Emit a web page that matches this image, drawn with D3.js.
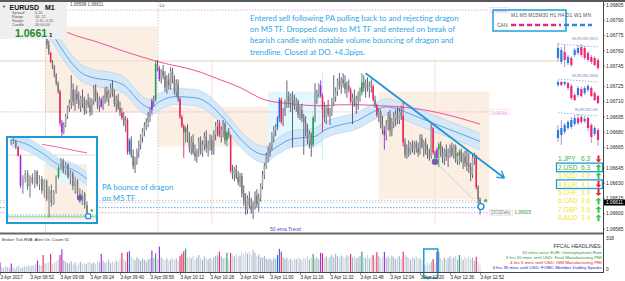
<!DOCTYPE html>
<html>
<head>
<meta charset="utf-8">
<script src="https://cdn.jsdelivr.net/npm/d3@7"></script>
<style>
  body { margin: 0; background: #fff; overflow: hidden; }
  svg { display: block; font-family: "Liberation Sans", Arial, sans-serif; }
</style>
</head>
<body>
<script>
// ---------- data ----------
// M1 bars, prices in points above 1.06500. bar 0 sits at the "3 Apr 2017" label
const firstBar = 25;
const firstOpen = 280;
const closes = [
  266,258,249,244,236,228,220,189,180,187, 196,204,209,222,210,218,212,206,214,208,
  201,210,207,200,211,222,214,206,212,205, 213,220,214,218,224,218,208,212,204,199,
  194,188,192,161,172,157,147,152,161,168, 175,181,186,190,196,202,211,212,247,243,
  232,240,235,224,232,226,240,231,220,228, 213,195,186,180,184,172,165,170,160,156,
  162,170,160,168,176,164,168,172,162,178, 186,189,177,182,188,172,180,177,142,138,
  144,136,131,137,120,112,104,115,108,103, 110,118,109,116,127,138,147,157,162,166,
  176,182,185,194,212,190,200,208,215,210, 216,212,206,210,197,202,194,190,180,172,
  178,168,194,212,218,226,216,202,194,204, 198,200,210,215,220,230,226,232,228,222,
  226,222,210,214,208,212,216,219,229,224, 228,222,226,225,212,206,197,200,188,182,
  177,188,196,182,190,194,198,192,200,196, 170,158,164,160,168,163,169,164,160,174,
  166,170,162,158,156,184,160,155,163,168, 160,154,162,156,160,165,158,166,152,157,
  161,152,156,150,148,146,138,155,157,126, 114,111
];
const highs = [
  284,270,259,251,246,238,230,222,192,190, 198,206,212,236,228,222,226,220,216,222,
  215,212,218,214,213,226,227,219,215,214, 216,224,225,222,228,231,222,216,218,210,
  204,200,196,194,174,176,163,156,164,172, 178,184,190,194,200,204,213,216,250,251,
  245,242,246,240,236,238,244,243,236,232, 232,214,197,188,186,188,180,176,178,168,
  164,175,176,172,180,182,172,178,177,182, 190,192,192,186,192,190,181,184,178,148,
  146,148,142,140,140,128,120,118,122,116, 112,122,124,120,130,142,150,160,166,170,
  180,186,188,196,214,214,204,212,231,220, 218,220,217,214,212,206,208,198,196,188,
  182,180,196,228,222,228,231,218,210,206, 212,204,214,236,224,233,238,234,238,236,
  230,232,224,218,222,216,220,224,238,236, 232,234,230,232,227,216,208,204,202,196,
  186,192,200,202,194,200,202,205,204,206, 210,174,168,172,170,172,171,172,170,178,
  178,172,174,168,164,188,185,162,165,170, 171,166,164,168,164,168,170,168,168,160,
  163,164,160,162,163,160,150,158,160,158, 128,116
];
const lows = [
  262,256,248,242,234,226,218,186,176,178, 185,193,200,203,206,201,208,203,200,204,
  197,198,204,196,197,207,210,203,200,204, 202,208,210,206,214,215,205,200,202,196,
  192,186,180,158,158,155,144,140,148,155, 163,170,176,182,185,190,198,205,210,240,
  230,228,232,220,218,222,222,228,217,215, 210,193,184,155,170,170,160,158,158,152,
  150,156,158,156,162,160,156,162,158,158, 172,176,175,170,175,168,166,174,140,134,
  132,134,128,126,116,108,99,100,105,100, 95,104,106,102,112,124,134,144,150,156,
  162,170,176,182,190,188,186,196,204,204, 200,165,202,200,194,192,190,158,176,168,
  164,156,165,190,208,214,214,180,190,188, 195,187,196,206,210,216,222,218,224,218,
  214,219,208,188,205,198,202,210,216,220, 214,220,214,219,210,204,195,190,184,178,
  163,172,182,176,176,184,186,188,188,192, 166,155,154,156,158,160,158,160,156,158,
  164,156,158,154,152,154,158,150,152,146, 156,150,148,152,146,155,156,154,150,148,
  148,150,144,146,142,140,132,135,148,124, 110,99
];
const redBars = [23, 27, 32, 65, 68, 96, 97, 98, 117, 123, 150, 172, 187, 199, 201, 215, 231, 254];
const greenBars = [83, 99, 121, 167, 193, 234, 245];
const blueBars = [69, 148, 149];
const purpleBars = [0, 6, 20, 33, 54, 81, 85, 171, 205, 233];

// tick volume, bar 0..256
const volumes = [
  86,40,35,50,45,38,75,42,30,48,55,35,40,52,45,60,
  50,62,55,70,100,65,58,150,75,80,88,160,70,82,95,110,
  150,200,105,90,80,75,95,70,85,60,78,92,66,80,72,88,
  90,76,84,70,95,86,160,100,82,92,110,78,96,85,102,90,
  120,170,110,95,175,185,140,120,105,130,115,98,120,108,92,112,
  118,190,125,165,110,225,130,115,102,120,98,110,125,105,118,100,
  140,160,185,205,125,135,118,142,110,128,150,122,108,135,118,112,
  125,115,130,145,150,180,138,120,128,170,115,168,150,140,160,135,
  145,170,155,180,162,175,150,195,168,140,155,130,125,142,118,110,
  120,105,128,115,150,205,180,132,115,125,108,118,102,122,112,130,
  115,105,125,120,138,110,128,160,118,130,112,170,165,125,140,118,
  135,150,128,162,140,118,145,132,125,150,138,160,130,145,120,128,
  142,180,130,125,150,118,135,150,122,175,140,118,132,178,125,138,
  120,145,130,112,128,140,118,180,150,135,125,110,132,118,140,122,
  120,105,70,60,85,65,90,115,75,180,175,120,105,130,112,125,
  140,118,130,145,110,150,125,108,135,120,140,115,128,100,135,90,60
];

// dragon (EMA band) and 200 EMA, read at a few bars
const dragonBars = [22,28,35,43,51,59,67,75,80,85,93,104,112,120,128,136,141,147,155,163,168,173,181,190,199,206,213,224,235,245,256];
const dragonMid  = [290,276,256,239,233,231,225,209,204,210,215,214,207,192,174,161,158,165,173,175,176,182,187,191,200,205,202,194,186,179,171];
const dragonHalfWidth = 8;
const emaBars = [22,36,53,67,85,107,114,128,141,155,171,181,192,203,213,229,245,256];
const emaVals = [292,278,268,259,249,239,234,224,212,208,206,207,207,206,205,201,194,188];

// session boxes
const sessionFrom = [24, 84, 143, 202];
const sessionTo   = [84, 143, 172, 261];
const sessionHigh = [1.06784, 1.06705, 1.06720, 1.06720];
const sessionLow  = [1.06699, 1.06666, 1.06666, 1.06614];
const sessionKind = ["range", "range", "break", "range"];

// levels
const topLevel = 1.06800, midLevel = 1.06700, tanLevel = 1.06750;
const askLevel = 1.06613, bidLevel = 1.06611, dailyOpen = 1.06606, pinkLevel = 1.06601;

// trade drawings
const trendStartBar = 195, trendStartPrice = 1.06738;
const trendEndBar = 269, trendEndPrice = 1.06635;
const entryBar = 232, entryPrice = 1.06651;
const exitBar = 256.5, exitPrice = 1.06607;

// axes
const priceTicks = [1.06805, 1.06790, 1.06775, 1.06760, 1.06745, 1.06725, 1.06710, 1.06695,
  1.06680, 1.06665, 1.06645, 1.06630, 1.06615, 1.06600, 1.06585];
const timeLabels = ["3 Apr 2017", "3 Apr 08:52", "3 Apr 09:08", "3 Apr 09:24", "3 Apr 09:40",
  "3 Apr 09:56", "3 Apr 10:12", "3 Apr 10:28", "3 Apr 10:44", "3 Apr 11:00", "3 Apr 11:16",
  "3 Apr 11:32", "3 Apr 11:48", "3 Apr 12:04", "3 Apr 12:20", "3 Apr 12:36", "3 Apr 12:52"];
const timeStep = 16;

// M5 inset
const insetFirstOpen = 287;
const insetCloses = [290,292,275,252,172,190,205,170,195,180,210,176,190,158,185,135,160,125,155,195,220,240,210,228,195,205,170,185,150,135,150,120,95];
const insetHighs  = [297,300,295,278,256,200,214,214,200,205,214,214,200,198,190,188,170,175,160,200,225,246,245,235,232,214,210,195,190,165,160,155,130];
const insetLows   = [281,284,270,250,165,150,180,160,140,175,165,170,160,150,140,130,87,115,120,150,190,215,205,200,190,175,160,150,140,125,120,110,88];
const insetColored = { 3: "red", 4: "purple", 20: "green" };
const insetDragonBars = [0, 6, 13, 20, 26, 32];
const insetDragonMid = [295, 285, 260, 228, 215, 190];
const insetEmaBars = [13, 20, 27, 32];
const insetEmaVals = [283, 275, 266, 260];

// multi timeframe mini charts [open, high, low, close]
const m15Bars = [[736,781,724,766],[724,769,718,760],[754,775,709,730],[721,745,715,739],[736,742,709,715],
  [745,766,739,760],[751,775,745,766],[769,778,739,745],[766,772,730,736],[751,757,724,730],
  [739,745,718,724],[736,742,712,715],[730,736,700,706]];
const m30Bars = [[676,696,668,688],[688,692,672,676],[680,692,672,688],[684,688,656,664],[672,680,616,624],
  [636,644,612,616],[636,672,628,664],[660,668,624,632],[644,672,636,664],[656,680,648,672],
  [664,672,628,632],[644,652,612,616],[632,636,600,604]];
const h1Bars = [[524,563,512,548],[533,578,503,554],[542,569,536,563],[554,578,548,572],[557,587,551,578],
  [566,593,560,584],[584,596,563,569],[587,593,566,572],[575,590,569,581],[584,590,545,554],
  [563,569,509,527],[536,560,530,554],[548,554,500,518]];

// currency strength
const currencies = ["JPY", "USD", "NZD", "EUR", "CHF", "CAD", "GBP", "AUD"];
const strengths = [6.3, 6.3, 4.9, 4.1, 3.9, 3.6, 3.6, 3.4];
const trendDir = [-1, 1, 1, -1, -1, 1, 1, 1];
const boxedRows = [1, 3];

// news
const headlines = ["55 mins since EUR: Unemployment Rate", "3 hrs 50 mins until USD: Final Manufacturing PMI",
  "4 hrs 5 mins until USD: ISM Manufacturing PMI", "4 hrs 35 mins until USD: FOMC Member Dudley Speaks"];
const headlineColors = ["#2a9a3a", "#2a9a3a", "#e0202a", "#2020e0"];

// ---------- drawing ----------
let width = 625, height = 281;
let plotRight = 603, mainTop = 2, mainBottom = 232;

let svg = d3.select("body").append("svg").attr("width", width).attr("height", height);
let pt = v => 1.065 + v / 1e5;

let x = d3.scaleLinear().domain([0, 256]).range([0, 480]);
let y = d3.scaleLinear().domain([1.06585, 1.06805]).range([229, 5]);
let yVol = d3.scaleLinear().domain([0, 318]).range([272, 236]);

function barColor(i) {
  if (redBars.includes(i)) return "#e8245a";
  if (greenBars.includes(i)) return "#1f9e55";
  if (blueBars.includes(i)) return "#2f62e8";
  if (purpleBars.includes(i)) return "#9b26e0";
  return null;
}

let defs = svg.append("defs");
defs.append("clipPath").attr("id", "mainClip").append("rect")
  .attr("x", 0).attr("y", mainTop).attr("width", plotRight).attr("height", mainBottom - mainTop);
defs.append("clipPath").attr("id", "insetClip").append("rect")
  .attr("x", 8).attr("y", 138).attr("width", 88).attr("height", 84);

svg.append("rect").attr("width", width).attr("height", height).attr("fill", "#fff");

let main = svg.append("g").attr("clip-path", "url(#mainClip)");

// session boxes
main.selectAll(".sess").data(sessionFrom).join("rect")
  .attr("x", (d, k) => x(d))
  .attr("width", (d, k) => x(sessionTo[k]) - x(d))
  .attr("y", (d, k) => y(sessionHigh[k]))
  .attr("height", (d, k) => y(sessionLow[k]) - y(sessionHigh[k]))
  .attr("fill", (d, k) => sessionKind[k] == "break" ? "#e2f8fc" : "#fbefe3");

// faint session separators
[113, 232].forEach(b => {
  main.append("line").attr("x1", x(b)).attr("x2", x(b)).attr("y1", y(1.06752)).attr("y2", y(1.06590))
    .attr("stroke", "#f6e4d2").attr("stroke-width", 1.2);
});
main.append("line").attr("x1", x(172)).attr("x2", x(172)).attr("y1", y(1.06740)).attr("y2", y(1.06652))
  .attr("stroke", "#c8f0f8").attr("stroke-width", 1);

// vertical period separators
[24, 84].forEach(b => {
  main.append("line").attr("x1", x(b) + 0.5).attr("x2", x(b) + 0.5).attr("y1", mainTop).attr("y2", mainBottom)
    .attr("stroke", "#c0c0c0").attr("stroke-width", 0.8).attr("stroke-dasharray", "1.5,1.5");
});

// horizontal levels
function level(p, color, dash, w, toBar) {
  main.append("line").attr("x1", 0).attr("x2", x(toBar)).attr("y1", y(p)).attr("y2", y(p))
    .attr("stroke", color).attr("stroke-width", w).attr("stroke-dasharray", dash);
}
level(tanLevel, "#eee2d3", null, 1.5, 297);
level(topLevel, "#f4a6ec", "1.5,1.5", 1, 261);
level(midLevel, "#f4a6ec", "1.5,1.5", 1, 261);
level(askLevel, "#c8c8c8", "1.5,1.5", 0.8, 261);
level(bidLevel, "#c8c8c8", "1.5,1.5", 0.8, 261);
level(dailyOpen, "#5aaae8", "1.5,1.5", 1, 256);
level(pinkLevel, "#f4a6ec", "1.5,1.5", 1.2, 261);

// pink level tags
[[topLevel, "1.06800"], [midLevel, "1.06700"]].forEach(([p, t]) => {
  main.append("rect").attr("x", x(261) + 1).attr("y", y(p) - 2.6).attr("width", 19).attr("height", 5.2)
    .attr("fill", "#fff").attr("stroke", "#f08ae6").attr("stroke-width", 0.6).attr("stroke-dasharray", "1,1");
  main.append("text").attr("x", x(261) + 2.5).attr("y", y(p) + 1.6).text(t)
    .attr("font-size", 4.2).attr("fill", "#e070d8");
});

// dragon band
let dragonPts = dragonBars.map((b, k) => ({ b: b, m: dragonMid[k] }));
main.append("path").datum(dragonPts)
  .attr("d", d3.area().x(d => x(d.b)).y0(d => y(pt(d.m - dragonHalfWidth))).y1(d => y(pt(d.m + dragonHalfWidth))).curve(d3.curveMonotoneX))
  .attr("fill", "#cfe5f8").attr("opacity", 0.85);
[dragonHalfWidth, -dragonHalfWidth].forEach(off => {
  main.append("path").datum(dragonPts)
    .attr("d", d3.line().x(d => x(d.b)).y(d => y(pt(d.m + off))).curve(d3.curveMonotoneX))
    .attr("fill", "none").attr("stroke", "#a6cff2").attr("stroke-width", 0.6);
});
main.append("path").datum(dragonPts)
  .attr("d", d3.line().x(d => x(d.b)).y(d => y(pt(d.m))).curve(d3.curveMonotoneX))
  .attr("fill", "none").attr("stroke", "#3a92e4").attr("stroke-width", 0.8);

// 200 ema
main.append("path").datum(emaBars.map((b, k) => ({ b: b, v: emaVals[k] })))
  .attr("d", d3.line().x(d => x(d.b)).y(d => y(pt(d.v))).curve(d3.curveMonotoneX))
  .attr("fill", "none").attr("stroke", "#f0509e").attr("stroke-width", 1);

// candles
let bars = closes.map((c, k) => ({ i: firstBar + k, o: k ? closes[k - 1] : firstOpen, h: highs[k], l: lows[k], c: c }));
main.append("g").selectAll("line").data(bars).join("line")
  .attr("x1", d => x(d.i)).attr("x2", d => x(d.i))
  .attr("y1", d => y(pt(d.h))).attr("y2", d => y(pt(d.l)))
  .attr("stroke", d => barColor(d.i) || "#50506e").attr("stroke-width", 0.9);
main.append("g").selectAll("rect").data(bars).join("rect")
  .attr("x", d => x(d.i) - 0.75).attr("width", 1.5)
  .attr("y", d => y(pt(Math.max(d.o, d.c))))
  .attr("height", d => Math.max(1, Math.abs(y(pt(d.o)) - y(pt(d.c)))))
  .attr("fill", d => barColor(d.i) || (d.c >= d.o ? "#a6a6a6" : "#7c7c7c"));

// trend line with open arrow
let tx1 = x(trendStartBar), ty1 = y(trendStartPrice), tx2 = x(trendEndBar), ty2 = y(trendEndPrice);
main.append("line").attr("x1", tx1).attr("y1", ty1).attr("x2", tx2).attr("y2", ty2)
  .attr("stroke", "#1e96d8").attr("stroke-width", 1.8);
let ang = Math.atan2(ty2 - ty1, tx2 - tx1);
[0.55, -0.55].forEach(a => {
  main.append("line").attr("x1", tx2).attr("y1", ty2)
    .attr("x2", tx2 - 8 * Math.cos(ang + a)).attr("y2", ty2 - 8 * Math.sin(ang + a))
    .attr("stroke", "#1e96d8").attr("stroke-width", 1.4);
});

// entry -> exit
main.append("line").attr("x1", x(entryBar)).attr("y1", y(entryPrice)).attr("x2", x(exitBar)).attr("y2", y(exitPrice))
  .attr("stroke", "#6ab0e8").attr("stroke-width", 0.8).attr("stroke-dasharray", "1.2,1.4");
main.append("circle").attr("cx", x(entryBar)).attr("cy", y(entryPrice)).attr("r", 2.6)
  .attr("fill", "#e0306a").attr("stroke", "#1e8ad6").attr("stroke-width", 1.3);
main.append("circle").attr("cx", x(exitBar)).attr("cy", y(exitPrice)).attr("r", 3)
  .attr("fill", "#fff").attr("stroke", "#1e8ad6").attr("stroke-width", 1.4);
main.append("circle").attr("cx", x(259)).attr("cy", y(1.06613)).attr("r", 1.6).attr("fill", "#30c040");

// daily open tag
main.append("rect").attr("x", x(261)).attr("y", y(pinkLevel) - 2.8).attr("width", 23).attr("height", 5.4)
  .attr("fill", "#fff").attr("stroke", "#f08ae6").attr("stroke-width", 0.6).attr("stroke-dasharray", "1,1");
main.append("text").attr("x", x(261) + 1.5).attr("y", y(pinkLevel) + 1.6).text("[DO]Daily")
  .attr("font-size", 4.6).attr("fill", "#50a050");
main.append("text").attr("x", x(261) + 25).attr("y", y(pinkLevel) + 1.6).text("1.06605")
  .attr("font-size", 4.6).attr("fill", "#30a030");

// annotations
let note = ["Entered sell following PA pulling back to and rejecting dragon",
  "on M5 TF. Dropped down to M1 TF and entered on break of",
  "bearish candle with notable volume bouncing of dragon and",
  "trendline. Closed at DO. +4.3pips."];
svg.append("g").selectAll("text").data(note).join("text")
  .attr("x", 250).attr("y", (d, k) => 21 + k * 11.2).text(d => d)
  .attr("font-family", "Lato, sans-serif").attr("font-size", 7.8).attr("fill", "#2ea6e6");
svg.append("g").selectAll("text").data(["PA bounce of dragon", "on M5 TF"]).join("text")
  .attr("x", 102).attr("y", (d, k) => 190 + k * 11).text(d => d)
  .attr("font-family", "Lato, sans-serif").attr("font-size", 7.8).attr("fill", "#2ea6e6");
svg.append("text").attr("x", 270).attr("y", 231).text("50 ema Trend")
  .attr("font-size", 5).attr("fill", "#4a4ab8");
svg.append("text").attr("x", x(84) + 2).attr("y", 6.5).text("Lo").attr("font-size", 4.5).attr("fill", "#666");
svg.append("text").attr("x", 70).attr("y", 6).text("1.06598 1.06611").attr("font-size", 4.5).attr("fill", "#444");

// ---------- M5 inset ----------
let ig = svg.append("g");
ig.append("rect").attr("x", 7).attr("y", 137).attr("width", 90).attr("height", 86)
  .attr("fill", "#fff").attr("stroke", "#1e9ad6").attr("stroke-width", 2);
let ic = ig.append("g").attr("clip-path", "url(#insetClip)");
let xi = d3.scaleLinear().domain([0, 32]).range([11, 87]);
let yi = d3.scaleLinear().domain([pt(85), pt(300)]).range([218, 138]);
ic.append("rect").attr("x", xi(14)).attr("width", xi(32) - xi(14)).attr("y", yi(pt(230))).attr("height", yi(pt(85)) - yi(pt(230))).attr("fill", "#fbefe3");
ic.append("rect").attr("x", xi(20)).attr("width", xi(25) - xi(20)).attr("y", yi(pt(240))).attr("height", yi(pt(177)) - yi(pt(240))).attr("fill", "#e2f8fc");
ic.append("line").attr("x1", 8).attr("x2", 96).attr("y1", yi(pt(254))).attr("y2", yi(pt(254))).attr("stroke", "#eee2d3").attr("stroke-width", 1.2);
let insetDragon = insetDragonBars.map((b, k) => ({ b: b, m: insetDragonMid[k] }));
ic.append("path").datum(insetDragon)
  .attr("d", d3.area().x(d => xi(d.b)).y0(d => yi(pt(d.m - 19))).y1(d => yi(pt(d.m + 19))).curve(d3.curveMonotoneX))
  .attr("fill", "#cfe5f8");
ic.append("path").datum(insetDragon)
  .attr("d", d3.line().x(d => xi(d.b)).y(d => yi(pt(d.m))).curve(d3.curveMonotoneX))
  .attr("fill", "none").attr("stroke", "#3a92e4").attr("stroke-width", 0.7);
ic.append("path").datum(insetEmaBars.map((b, k) => ({ b: b, v: insetEmaVals[k] })))
  .attr("d", d3.line().x(d => xi(d.b)).y(d => yi(pt(d.v))).curve(d3.curveMonotoneX))
  .attr("fill", "none").attr("stroke", "#f0509e").attr("stroke-width", 0.9);
[[93, "#5aaae8", "1.5,1.5"], [88, "#5fd05f", null], [82, "#f4a6ec", "1.5,1.5"]].forEach(([v, c, dsh]) => {
  ic.append("line").attr("x1", 8).attr("x2", 96).attr("y1", yi(pt(v))).attr("y2", yi(pt(v)))
    .attr("stroke", c).attr("stroke-width", 0.9).attr("stroke-dasharray", dsh);
});
let insetColor = { red: "#e8245a", purple: "#9b26e0", green: "#1f9e55" };
let ibars = insetCloses.map((c, k) => ({ j: k, o: k ? insetCloses[k - 1] : insetFirstOpen, h: insetHighs[k], l: insetLows[k], c: c }));
ic.append("g").selectAll("line").data(ibars).join("line")
  .attr("x1", d => xi(d.j)).attr("x2", d => xi(d.j)).attr("y1", d => yi(pt(d.h))).attr("y2", d => yi(pt(d.l)))
  .attr("stroke", d => insetColor[insetColored[d.j]] || "#50506e").attr("stroke-width", 0.8);
ic.append("g").selectAll("rect").data(ibars).join("rect")
  .attr("x", d => xi(d.j) - 0.8).attr("width", 1.6)
  .attr("y", d => yi(pt(Math.max(d.o, d.c)))).attr("height", d => Math.max(1, Math.abs(yi(pt(d.o)) - yi(pt(d.c)))))
  .attr("fill", d => insetColor[insetColored[d.j]] || (d.c >= d.o ? "#a6a6a6" : "#7c7c7c"));
ic.append("circle").attr("cx", xi(29)).attr("cy", yi(pt(139))).attr("r", 2.4)
  .attr("fill", "#e0306a").attr("stroke", "#1e8ad6").attr("stroke-width", 1.1);
ic.append("circle").attr("cx", xi(32.5)).attr("cy", yi(pt(90))).attr("r", 2.6)
  .attr("fill", "#fff").attr("stroke", "#1e8ad6").attr("stroke-width", 1.2);
ic.append("circle").attr("cx", xi(34)).attr("cy", yi(pt(105))).attr("r", 1.3).attr("fill", "#30c040");

// ---------- info panel ----------
svg.append("rect").attr("x", 0).attr("y", 2).attr("width", 67).attr("height", 37).attr("fill", "#efefef");
svg.append("text").attr("x", 2).attr("y", 8).text("▼").attr("font-size", 4).attr("fill", "#333");
svg.append("text").attr("x", 9.5).attr("y", 9.5).text("EURUSD").attr("font-size", 7).attr("font-weight", "bold").attr("fill", "#111");
svg.append("text").attr("x", 45).attr("y", 9.5).text("M1").attr("font-size", 7).attr("font-weight", "bold").attr("fill", "#111");
[["Spread", "0.20"], ["Range", "33, 22"], ["Swaps", "-5.15, 0.55"], ["Candle", "00:00:04"]].forEach(([a, b], k) => {
  svg.append("text").attr("x", 12).attr("y", 14 + k * 4.1).text(a).attr("font-size", 3.8).attr("fill", "#555");
  svg.append("text").attr("x", 35).attr("y", 14 + k * 4.1).text(b).attr("font-size", 3.8).attr("fill", "#555");
});
svg.append("text").attr("x", 15).attr("y", 37).text("1.0661").attr("font-size", 10.5).attr("font-weight", "bold").attr("fill", "#1a8a2a");
svg.append("text").attr("x", 49).attr("y", 37).text("1").attr("font-size", 6).attr("font-weight", "bold").attr("fill", "#111");

// ---------- timeframe box ----------
svg.append("rect").attr("x", 493).attr("y", 10).attr("width", 73).attr("height", 21)
  .attr("fill", "none").attr("stroke", "#1ea0e0").attr("stroke-width", 1.5);
svg.append("text").attr("x", 511).attr("y", 17).text("M1 M5 M15M30 H1 H4 D1 W1 MN")
  .attr("font-size", 5).attr("textLength", 80).attr("fill", "#556");
svg.append("text").attr("x", 497).attr("y", 27).text("CAN").attr("font-size", 5).attr("fill", "#556");
svg.append("line").attr("x1", 511).attr("x2", 561).attr("y1", 25).attr("y2", 25)
  .attr("stroke", "#f0208a").attr("stroke-width", 2.4).attr("stroke-dasharray", "5,3");
svg.append("line").attr("x1", 564).attr("x2", 592).attr("y1", 25).attr("y2", 25)
  .attr("stroke", "#2a8ae0").attr("stroke-width", 2.4).attr("stroke-dasharray", "5,3");

// ---------- mini charts ----------
let xm = d3.scaleLinear().domain([0, 12]).range([558, 598]);
function miniChart(data, lo, hi, top, bottom, label, dotFrom, dotTo) {
  let ym = d3.scaleLinear().domain([lo, hi]).range([bottom, top]);
  let g = svg.append("g");
  g.append("text").attr("x", 598).attr("y", top - 3).attr("text-anchor", "end").text(label)
    .attr("font-size", 4).attr("fill", "#7090b8");
  g.append("line").attr("x1", 558).attr("x2", 598).attr("y1", ym(dotFrom)).attr("y2", ym(dotTo))
    .attr("stroke", "#6ab0e8").attr("stroke-width", 0.8).attr("stroke-dasharray", "1.5,1.5");
  g.selectAll("line.w").data(data).join("line").attr("class", "w")
    .attr("x1", (d, j) => xm(j)).attr("x2", (d, j) => xm(j)).attr("y1", d => ym(d[1])).attr("y2", d => ym(d[2]))
    .attr("stroke", "#9a78c0").attr("stroke-width", 0.8);
  g.selectAll("rect").data(data).join("rect")
    .attr("x", (d, j) => xm(j) - 1.1).attr("width", 2.2)
    .attr("y", d => ym(Math.max(d[0], d[3]))).attr("height", d => Math.max(1, Math.abs(ym(d[0]) - ym(d[3]))))
    .attr("fill", d => d[3] >= d[0] ? "#2a7de0" : "#f0287a");
}
miniChart(m15Bars, 700, 781, 43, 70, "EURUSD,M15", 778, 769);
miniChart(m30Bars, 600, 696, 80, 104, "EURUSD,M30", 700, 688);
miniChart(h1Bars, 500, 596, 114, 146, "EURUSD,H1", 600, 590);

// ---------- currency strength ----------
let sg = svg.append("g");
currencies.forEach((c, k) => {
  let cy = 159 + k * 8.4;
  let col = k < 2 ? "#3cb043" : "#f2e62e";
  if (boxedRows.includes(k)) {
    sg.append("rect").attr("x", 556.5).attr("y", cy - 4.3).attr("width", 46).attr("height", 8.6)
      .attr("fill", "none").attr("stroke", "#1e9ad6").attr("stroke-width", 1.3);
  }
  sg.append("text").attr("x", 558).attr("y", cy + 2.4).text((k + 1) + "." + c).attr("font-size", 6.6).attr("fill", col);
  sg.append("text").attr("x", 581).attr("y", cy + 2.4).text(strengths[k].toFixed(1)).attr("font-size", 6.6).attr("fill", col);
  let ax = 598.5, s = trendDir[k];
  let path = s > 0
    ? `M${ax},${cy - 3.5}L${ax + 2.8},${cy - 0.5}L${ax + 1},${cy - 0.5}L${ax + 1},${cy + 3.5}L${ax - 1},${cy + 3.5}L${ax - 1},${cy - 0.5}L${ax - 2.8},${cy - 0.5}Z`
    : `M${ax},${cy + 3.5}L${ax + 2.8},${cy + 0.5}L${ax + 1},${cy + 0.5}L${ax + 1},${cy - 3.5}L${ax - 1},${cy - 3.5}L${ax - 1},${cy + 0.5}L${ax - 2.8},${cy + 0.5}Z`;
  sg.append("path").attr("d", path).attr("fill", s > 0 ? "#2ec84a" : "#e8202a");
});

// ---------- price axis ----------
svg.append("rect").attr("x", plotRight + 1).attr("y", 2).attr("width", width - plotRight).attr("height", 270).attr("fill", "#fff");
svg.append("g").selectAll("text").data(priceTicks).join("text")
  .attr("x", 606).attr("y", d => y(d) + 1.7).text(d => d.toFixed(5))
  .attr("font-size", 4.8).attr("fill", "#222");
svg.append("g").selectAll("line").data(priceTicks).join("line")
  .attr("x1", plotRight).attr("x2", plotRight + 2).attr("y1", d => y(d)).attr("y2", d => y(d)).attr("stroke", "#444").attr("stroke-width", 0.6);
svg.append("rect").attr("x", 604).attr("y", y(bidLevel) - 3).attr("width", 21).attr("height", 6).attr("fill", "#000");
svg.append("text").attr("x", 606).attr("y", y(bidLevel) + 1.7).text(bidLevel.toFixed(5)).attr("font-size", 4.8).attr("fill", "#fff");

// ---------- volume panel ----------
let volGray = i => {
  let k = i - firstBar;
  if (k < 0) return "#b9c5d3";
  return bars[k].c >= bars[k].o ? "#a4b4c7" : "#cbd4de";
};
svg.append("g").selectAll("rect").data(volumes).join("rect")
  .attr("x", (d, i) => x(i) - 0.55).attr("width", 1.1)
  .attr("y", d => yVol(d)).attr("height", d => yVol(0) - yVol(d))
  .attr("fill", (d, i) => barColor(i) || volGray(i));
svg.append("rect").attr("x", x(226)).attr("y", 249).attr("width", x(233.5) - x(226)).attr("height", 29)
  .attr("fill", "none").attr("stroke", "#1e9ad6").attr("stroke-width", 1.5);
svg.append("text").attr("x", 2).attr("y", 241).text("Broker Tick RVA:   Alert On.   Count  51")
  .attr("font-size", 4.2).attr("fill", "#333");
svg.append("text").attr("x", 606).attr("y", 239.5).text("318").attr("font-size", 4.8).attr("fill", "#222");
svg.append("text").attr("x", 606).attr("y", 271).text("0").attr("font-size", 4.8).attr("fill", "#222");
svg.append("text").attr("x", 602).attr("y", 248).attr("text-anchor", "end").text("FFCAL HEADLINES:")
  .attr("font-size", 5.2).attr("fill", "#333");
svg.append("g").selectAll("text").data(headlines).join("text")
  .attr("x", 602).attr("y", (d, k) => 254 + k * 5).attr("text-anchor", "end").text(d => d)
  .attr("font-size", 4.4).attr("fill", (d, k) => headlineColors[k]);

// ---------- frame and time axis ----------
svg.append("line").attr("x1", 0).attr("x2", width).attr("y1", 1).attr("y2", 1).attr("stroke", "#5a5a5a").attr("stroke-width", 2);
svg.append("line").attr("x1", 0).attr("x2", plotRight + 1).attr("y1", 233.5).attr("y2", 233.5).attr("stroke", "#666").attr("stroke-width", 2);
svg.append("line").attr("x1", plotRight + 0.5).attr("x2", plotRight + 0.5).attr("y1", 2).attr("y2", 272.5).attr("stroke", "#444").attr("stroke-width", 1);
svg.append("line").attr("x1", 0).attr("x2", plotRight + 1).attr("y1", 272.5).attr("y2", 272.5).attr("stroke", "#444").attr("stroke-width", 1);
svg.append("g").selectAll("text").data(timeLabels).join("text")
  .attr("x", (d, k) => x(k * timeStep) + 0.5).attr("y", 279).text(d => d)
  .attr("font-size", 4.6).attr("fill", "#222");
svg.append("g").selectAll("line").data(timeLabels).join("line")
  .attr("x1", (d, k) => x(k * timeStep) + 0.5).attr("x2", (d, k) => x(k * timeStep) + 0.5)
  .attr("y1", 272.5).attr("y2", 275).attr("stroke", "#444").attr("stroke-width", 0.6);
</script>
</body>
</html>
